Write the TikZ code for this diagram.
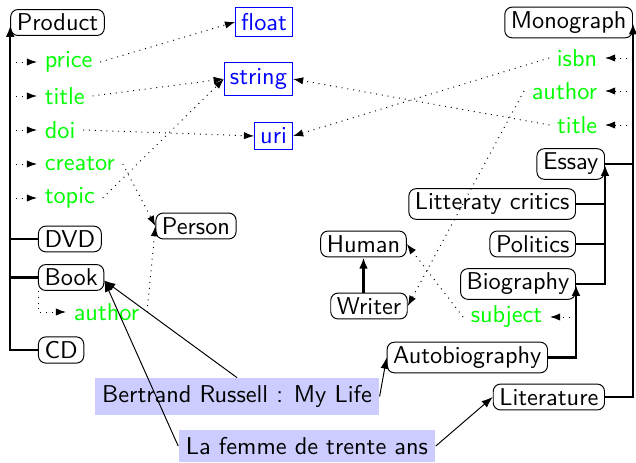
\documentclass[tikz,border=0pt]{standalone}
\usetikzlibrary{arrows.meta}

\begin{document}
\begin{tikzpicture}[x=0.411pt,y=-0.411pt,
  every node/.style={font=\sffamily},
  clase/.style={draw=black,rounded corners=3pt,inner xsep=2.5pt,inner ysep=1.8pt},
  tipo/.style={draw=blue,text=blue,inner sep=2.3pt},
  atrib/.style={text=green,inner xsep=3pt,inner ysep=1.5pt},
  instancia/.style={fill=blue!20,inner sep=3pt},
  herencia/.style={line width=1pt,-{Latex[length=4.6pt,width=3.6pt]}},
  relacion/.style={dotted,-{Latex[length=4.2pt,width=3pt]}},
  ejemplo/.style={-{Latex[length=4.6pt,width=3.4pt]}}]
  \useasboundingbox (0,0) rectangle (636,463);

  % Clases de la izquierda
  \node[clase] (Product) at (57.5,22.5) {Product};
  \node[clase,anchor=west] (DVD) at (38,239) {DVD};
  \node[clase,anchor=west] (Book) at (38,277.5) {Book};
  \node[clase,anchor=west] (CD) at (38,350) {CD};

  % Atributos de Product y Book
  \node[atrib,anchor=west] (price) at (37,62) {price};
  \node[atrib,anchor=west] (title) at (37,96) {title};
  \node[atrib,anchor=west] (doi) at (37,130) {doi};
  \node[atrib,anchor=west] (creator) at (37,164) {creator};
  \node[atrib,anchor=west] (topic) at (37,198) {topic};
  \node[atrib,anchor=west] (bauthor) at (66,312) {author};

  % Tipos de datos
  \node[tipo,anchor=east] (float) at (293,22) {float};
  \node[tipo,anchor=east] (string) at (293,79) {string};
  \node[tipo,anchor=east] (uri) at (293,136) {uri};
  \node[clase] (Person) at (196,226) {Person};

  % Clases de la derecha
  \node[clase,anchor=east] (Monograph) at (633,22.5) {Monograph};
  \node[atrib,anchor=east] (isbn) at (605,58) {isbn};
  \node[atrib,anchor=east] (mauthor) at (605,91) {author};
  \node[atrib,anchor=east] (mtitle) at (605,125) {title};
  \node[clase,anchor=east] (Essay) at (605,164) {Essay};
  \node[clase,anchor=east] (Critics) at (576,204) {Litteraty critics};
  \node[clase,anchor=east] (Politics) at (576,244) {Politics};
  \node[clase,anchor=east] (Biography) at (576,284) {Biography};
  \node[atrib,anchor=east] (subject) at (550,317) {subject};
  \node[clase,anchor=east] (Autobiography) at (548,357.5) {Autobiography};
  \node[clase,anchor=east] (Literature) at (605,397) {Literature};
  \node[clase] (Human) at (363.5,244) {Human};
  \node[clase] (Writer) at (369,306) {Writer};

  % Instancias
  \node[instancia] (russell) at (237,396.5) {Bertrand Russell : My Life};
  \node[instancia] (femme) at (307,446) {La femme de trente ans};

  % Herencia
  \draw[herencia] (CD.west) -| (Product.mid west);
  \foreach \c in {DVD,Book}
    \draw[line width=1pt] (\c.west) -- (\c.west -| Product.west);
  \draw[herencia] (Literature.east) -| (Monograph.mid east);
  \draw[line width=1pt] (Essay.east) -- (Essay.east -| Monograph.east);
  \draw[herencia] (Biography.east) -| (Essay.mid east);
  \foreach \c in {Critics,Politics}
    \draw[line width=1pt] (\c.east) -- (\c.east -| Essay.east);
  \draw[herencia] (Autobiography.east) -| (Biography.mid east);
  \draw[herencia] (Human.south |- Writer.north) -- (Human.south);

  % Atributos
  \foreach \a in {price,title,doi,creator,topic}
    \draw[relacion] (\a.west -| Product.west) -- (\a.west);
  \draw[relacion] (Book.south west) |- (bauthor.west);
  \foreach \a in {isbn,mauthor,mtitle}
    \draw[relacion] (\a.east -| Monograph.east) -- (\a.east);
  \draw[relacion] (subject.east -| Biography.east) -- (subject.east);

  % Rangos
  \draw[relacion] (price.east) -- (float.west);
  \draw[relacion] (title.east) -- (string.west);
  \draw[relacion] (doi.east) -- (uri.west);
  \draw[relacion] (topic.east) -- (string.west);
  \draw[relacion] (creator.east) -- (Person.west);
  \draw[relacion] (bauthor.east) -- (Person.west);
  \draw[relacion] (isbn.west) -- (uri.east);
  \draw[relacion] (mtitle.west) -- (string.east);
  \draw[relacion] (mauthor.west) -- (Writer.east);
  \draw[relacion] (subject.west) -- (Human.east);

  % Ejemplares
  \draw[ejemplo] (russell.north) -- (Book.mid east);
  \draw[ejemplo] (femme.west) -- (Book.mid east);
  \draw[ejemplo] (russell.east) -- (Autobiography.west);
  \draw[ejemplo] (femme.east) -- (Literature.west);
\end{tikzpicture}
\end{document}
